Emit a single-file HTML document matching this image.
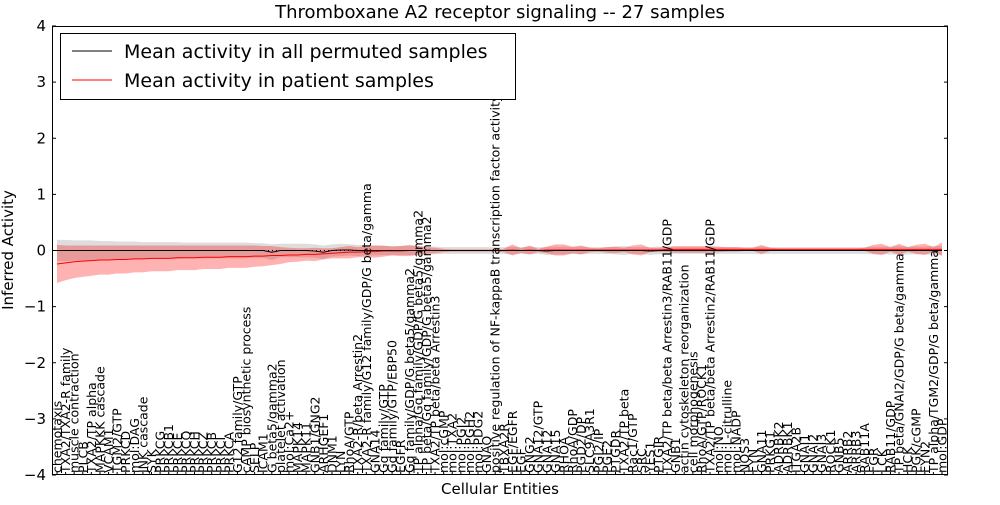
<!DOCTYPE html>
<html><head><meta charset="utf-8"><style>
body{margin:0;background:#fff;}
svg{font-family:"DejaVu Sans","Liberation Sans",sans-serif;}
</style></head><body>
<svg id="chart" width="1000" height="500" xmlns="http://www.w3.org/2000/svg">
<rect width="1000" height="500" fill="#fff"/>
<text x="500" y="18" font-size="18" text-anchor="middle">Thromboxane A2 receptor signaling -- 27 samples</text>
<g id="plot"></g>
<text x="500" y="494" font-size="15" text-anchor="middle">Cellular Entities</text>
<text transform="translate(13,250) rotate(-90)" font-size="15" text-anchor="middle">Inferred Activity</text>
<g>
<rect x="60.5" y="33.5" width="455" height="66" fill="#fff" stroke="#000"/>
<line x1="72" y1="51" x2="112" y2="51" stroke="#000" stroke-width="1"/>
<text x="124" y="58" font-size="19">Mean activity in all permuted samples</text>
<line x1="72" y1="80" x2="112" y2="80" stroke="#f00" stroke-width="1"/>
<text x="124" y="87" font-size="19">Mean activity in patient samples</text>
</g>
</svg>
<script>
const categories = ["chemotaxis","TXA2/TXA2-R family","muscle contraction","PLCB","TXA2/TP alpha","MAPKKK cascade","VCAM1","TGM2/GTP","PRKCD","mol:DAG",
"JNK cascade","SYK","PRKCG","PRKCB1","PRKCE","PRKCQ","PRKCH","PRKCZ","PRKCB","PRKCI",
"PRKCA","G12 family/GTP","cAMP biosynthetic process","SELP","ICAM1","G beta5/gamma2","platelet activation","mol:Ca2+","MAPK14","MAPK11",
"GNB1/GNG2","ARHGEF1","DNM1","LYN","RhoA/GTP","TXA2-R/beta Arrestin2","TXA2-R family/G12 family/GDP/G beta/gamma","GNA14","Gq family/GTP","Gq family/GTP/EBP50",
"EGFR","Gq family/GDP/G beta5/gamma2","TP alpha/Gq family/GDP/G beta5/gamma2","TP beta/Gq family/GDP/G beta5/gamma2","TXA2/TP beta/beta Arrestin3","mol:cGMP","mol:TXA2","mol:PGI2","mol:PGH2","mol:PDG2",
"GNAQ","positive regulation of NF-kappaB transcription factor activity","TBXA2R","EGF/EGFR","EGF","GNG2","GNA12/GTP","GNA12","GNA15","RHOA",
"RhoA/GDP","PGD2/DP","SLC9A3R1","PGI2/IP","PGE2","PTGDR","TXA2/TP beta","Rac1/GTP","SRC","YES1",
"PTGIR","TXA2/TP beta/beta Arrestin3/RAB11/GDP","GNB1","actin cytoskeleton reorganization","cell morphogenesis","RhoA/GTP/ROCK1","TXA2/TP beta/beta Arrestin2/RAB11/GDP","mol:NO","mol:L-citrulline","mol:NADP",
"NOS3","FYN","GNA11","PRKG1","ADRBK2","ADRBK1","ITGA2B","GNAI1","GNAI2","GNAI3",
"ROCK1","GNB5","ARRB2","ARRB3","RAB11A","FGR","LCK","RAB11/GDP","TP beta/GNAI2/GDP/G beta/gamma","HCK",
"PGK/cGMP","FYN2","TP alpha/TGM2/GDP/G beta/gamma","mol:GDP"];
const permMean = [0,0,0,0,0,0,0,0,0,0,
0,0,0,0,0,0,0,0,0,0,
0,0,0,0,0,-0.03,0,0,0,0,
-0.01,-0.03,0,0.01,0.01,0,0,0,0,0,
0,0,0,0,0,0,0,0,0,0,
0,0,0,0,0,0,0,-0.01,0,0,
0,0,0,0,0,0,0,0,0,-0.01,
0,0,0,0,0,0,0,0,0,0,
0,0,0,0,0,0,0,0,0,0,
0,0,0,0,0,0,0,0,0,0,
0,0,0,0];
const permStd = [0.19,0.19,0.18,0.18,0.18,0.17,0.17,0.16,0.16,0.16,
0.15,0.15,0.15,0.15,0.15,0.14,0.14,0.14,0.14,0.14,
0.14,0.14,0.14,0.13,0.13,0.14,0.12,0.12,0.12,0.12,
0.12,0.12,0.11,0.11,0.1,0.1,0.09,0.09,0.08,0.08,
0.08,0.08,0.08,0.07,0.07,0.06,0.06,0.06,0.06,0.06,
0.06,0.06,0.06,0.07,0.06,0.07,0.06,0.07,0.07,0.07,
0.06,0.07,0.06,0.06,0.06,0.07,0.08,0.06,0.06,0.07,
0.07,0.06,0.06,0.06,0.06,0.06,0.06,0.06,0.06,0.06,
0.06,0.06,0.07,0.06,0.06,0.06,0.06,0.06,0.06,0.06,
0.06,0.06,0.06,0.06,0.06,0.07,0.07,0.07,0.08,0.07,
0.07,0.07,0.08,0.08];
const patMean = [-0.24,-0.22,-0.2,-0.19,-0.18,-0.17,-0.17,-0.16,-0.16,-0.15,
-0.15,-0.14,-0.14,-0.14,-0.13,-0.13,-0.13,-0.12,-0.12,-0.12,
-0.11,-0.11,-0.11,-0.1,-0.1,-0.09,-0.09,-0.08,-0.08,-0.07,
-0.07,-0.06,-0.05,-0.04,-0.03,-0.03,-0.02,-0.02,-0.01,-0.01,
-0.01,0,0,0,0,0,0,0,0,0,
0,0,0,0.01,0,0.01,0,0.01,0.01,0.01,
0.01,0.01,0.01,0.01,0.01,0.01,0.01,0.01,0.01,0.01,
0.01,0.02,0.02,0.02,0.02,0.02,0.02,0.02,0.02,0.02,
0.02,0.02,0.02,0.02,0.02,0.02,0.02,0.02,0.02,0.02,
0.02,0.02,0.02,0.02,0.02,0.02,0.02,0.02,0.02,0.02,
0.02,0.02,0.02,0.02];
const patStd = [0.34,0.31,0.29,0.28,0.27,0.26,0.26,0.25,0.25,0.24,
0.24,0.23,0.23,0.23,0.22,0.22,0.22,0.21,0.21,0.21,
0.2,0.2,0.2,0.19,0.18,0.17,0.15,0.13,0.12,0.11,
0.12,0.1,0.09,0.1,0.11,0.09,0.1,0.11,0.1,0.08,
0.09,0.1,0.08,0.06,0.05,0.03,0.02,0.02,0.02,0.02,
0.02,0.02,0.03,0.1,0.04,0.08,0.03,0.06,0.1,0.1,
0.06,0.08,0.04,0.03,0.05,0.06,0.04,0.08,0.1,0.04,
0.04,0.05,0.06,0.06,0.06,0.06,0.06,0.05,0.04,0.04,
0.03,0.03,0.08,0.03,0.02,0.02,0.02,0.02,0.02,0.02,
0.02,0.02,0.02,0.02,0.03,0.08,0.1,0.04,0.1,0.04,
0.08,0.1,0.04,0.12];
const yTicks = [-4,-3,-2,-1,0,1,2,3,4];
const yTickLabels = ["\u22124","\u22123","\u22122","\u22121","0","1","2","3","4"];

const NS="http://www.w3.org/2000/svg";
const L=52,R=948,T=26,B=475;
const x0=57,x1=942;
function xs(i){return x0+(x1-x0)*i/(categories.length-1);}
function ys(v){return B-(v+4)/8*(B-T);}
const g=document.getElementById('plot');
function mk(tag,attrs){const e=document.createElementNS(NS,tag);for(const k in attrs)e.setAttribute(k,attrs[k]);g.appendChild(e);return e;}
function band(mean,std){let up=[],dn=[];for(let i=0;i<mean.length;i++){up.push(xs(i)+','+ys(mean[i]+std[i]));dn.unshift(xs(i)+','+ys(mean[i]-std[i]));}return up.concat(dn).join(' ');}
function line(mean){return mean.map((v,i)=>xs(i)+','+ys(v)).join(' ');}
const gb=mk('polygon',{points:band(permMean,permStd),fill:'#bbb','fill-opacity':'0.5'});


const rb=mk('polygon',{points:band(patMean,patStd),fill:'#f00','fill-opacity':'0.3'});


const rl=mk('polyline',{points:line(patMean),fill:'none',stroke:'#f00','stroke-width':1});


const bl=mk('polyline',{points:line(permMean),fill:'none',stroke:'#000','stroke-width':1});


const zl=mk('line',{x1:L,x2:R,y1:ys(0),y2:ys(0),stroke:'#000','stroke-width':1,'stroke-dasharray':'1,3'});


yTicks.forEach((v,i)=>{
  const y=ys(v);
  const t1=mk('line',{x1:L,x2:L+4,y1:y,y2:y,stroke:'#000'});
  
  
  const t2=mk('line',{x1:R-4,x2:R,y1:y,y2:y,stroke:'#000'});
  
  
  const tx=mk('text',{x:L-6,y:y+5,'font-size':15,'text-anchor':'end'});
  tx.textContent=yTickLabels[i];
  
  
});
categories.forEach((c,i)=>{
  const x=xs(i);
  const tk=mk('line',{x1:x,x2:x,y1:B,y2:B-3,stroke:'#000'});
  
  
  const t=mk('text',{transform:'translate('+(x+4.5)+','+(B-2)+') rotate(-90)','font-size':12.5});
  t.textContent=c;
  
  
});
const fr=mk('rect',{x:L+0.5,y:T+0.5,width:R-L-1,height:B-T-1,fill:'none',stroke:'#000'});


</script>
</body></html>
